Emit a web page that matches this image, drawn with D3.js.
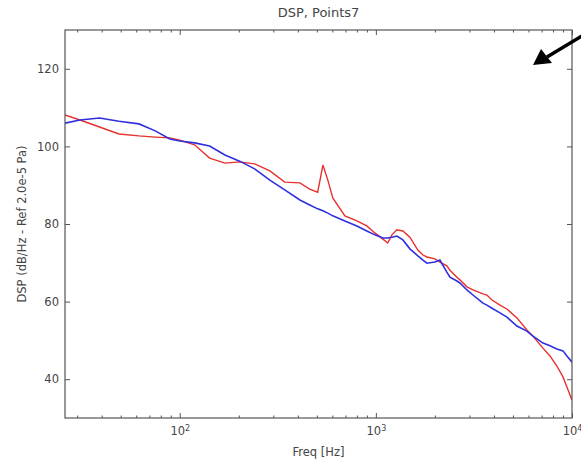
<!DOCTYPE html>
<html>
<head>
<meta charset="utf-8">
<script src="https://d3js.org/d3.v7.min.js"></script>
<style>
    body { margin: 0; background: #fff; }
    svg text { font-family: "DejaVu Sans", sans-serif; fill: #444; }
</style>
</head>
<body>
<div id="my_dataviz"></div>
<script>

// frequencies (Hz), shared by both curves
var freq = [26, 31, 39, 49, 62, 75, 89, 100,
            119, 142, 170, 202, 241, 288, 343, 410,
            460, 505, 537, 569, 603, 695, 800, 899,
            988, 1086, 1150, 1207, 1280, 1373, 1491, 1637,
            1738, 1820, 2000, 2121, 2301, 2386, 2589, 2683,
            2911, 3126, 3515, 3681, 3908, 4293, 4656, 5240,
            5888, 6322, 7112, 7722, 8375, 8995, 9421, 10000]

// red curve (dB/Hz)
var dspRed = [108.1, 106.8, 105.0, 103.2, 102.7, 102.4, 102.2, 101.6,
              100.4, 97.0, 95.7, 96.0, 95.5, 93.7, 90.8, 90.6,
              89.0, 88.2, 95.2, 91.3, 86.7, 82.1, 80.8, 79.5,
              77.7, 76.1, 75.1, 77.2, 78.5, 78.2, 76.6, 73.3,
              72.0, 71.5, 71.0, 70.2, 69.2, 68.1, 66.3, 65.6,
              63.8, 63.0, 62.0, 61.7, 60.4, 59.1, 58.1, 55.8,
              52.7, 51.1, 48.0, 46.0, 43.4, 40.6, 38.0, 34.6]

// blue curve (dB/Hz)
var dspBlue = [106.0, 106.8, 107.3, 106.5, 105.8, 104.0, 101.9, 101.4,
               100.9, 100.1, 97.8, 96.2, 94.2, 91.3, 88.8, 86.2,
               84.9, 83.9, 83.4, 82.8, 82.1, 80.8, 79.5, 78.2,
               77.2, 76.4, 76.4, 76.6, 76.9, 75.9, 73.6, 71.8,
               70.7, 69.9, 70.2, 70.7, 67.6, 66.3, 65.3, 64.8,
               63.0, 61.7, 59.6, 59.1, 58.3, 57.1, 56.0, 53.7,
               52.4, 51.1, 49.3, 48.6, 47.8, 47.3, 46.0, 44.4]

var yTicks = [40, 60, 80, 100, 120]
var xTicks = [100, 1000, 10000]

var width = 581
    height = 463
    margin = {top: 30, right: 9, bottom: 45, left: 65}

var svg = d3.select("#my_dataviz")
  .append("svg")
    .attr("width", width)
    .attr("height", height)

var x = d3.scaleLog()
    .domain([26, 10000])
    .range([margin.left, width - margin.right])

var y = d3.scaleLinear()
    .domain([30, 130])
    .range([height - margin.bottom, margin.top])

// minor ticks of the log axis
var xMinor = []
for (var e = 1; e < 4; e++) {
    for (var k = 2; k < 10; k++) {
        var v = k * Math.pow(10, e)
        if (v >= 26 && v <= 10000) xMinor.push(v)
    }
}

// clip for the curves
svg.append("clipPath").attr("id", "clip")
  .append("rect")
    .attr("x", margin.left).attr("y", margin.top)
    .attr("width", width - margin.left - margin.right)
    .attr("height", height - margin.top - margin.bottom)

var line = d3.line()
    .x(function(d, i) { return x(freq[i]) })
    .y(function(d) { return y(d) })

svg.append("path")
    .datum(dspRed)
    .attr("clip-path", "url(#clip)")
    .attr("fill", "none")
    .attr("stroke", "#e8302c")
    .attr("stroke-width", 1.4)
    .attr("d", line)

svg.append("path")
    .datum(dspBlue)
    .attr("clip-path", "url(#clip)")
    .attr("fill", "none")
    .attr("stroke", "#2f2fe0")
    .attr("stroke-width", 1.6)
    .attr("d", line)

// axes, ticks pointing inward like matplotlib
function styleAxis(g) {
    g.select(".domain").remove()
    g.selectAll("line").attr("stroke", "#555")
}

var bottom = height - margin.bottom
var right = width - margin.right

var xAxis = svg.append("g")
    .attr("transform", "translate(0," + bottom + ")")
    .call(d3.axisBottom(x).tickValues(xTicks).tickSize(-5).tickPadding(9).tickFormat(function() { return "10" }))
    .call(styleAxis)
xAxis.selectAll("text")
    .attr("font-size", "11.5px")
  .append("tspan")
    .attr("dy", "-0.5em")
    .attr("font-size", "8px")
    .text(function(d) { return Math.round(Math.log10(d)) })

svg.append("g")
    .attr("transform", "translate(0," + bottom + ")")
    .call(d3.axisBottom(x).tickValues(xMinor).tickSize(-2.5).tickFormat(""))
    .call(styleAxis)

svg.append("g")
    .attr("transform", "translate(0," + margin.top + ")")
    .call(d3.axisTop(x).tickValues(xTicks).tickSize(-5).tickFormat(""))
    .call(styleAxis)

svg.append("g")
    .attr("transform", "translate(0," + margin.top + ")")
    .call(d3.axisTop(x).tickValues(xMinor).tickSize(-2.5).tickFormat(""))
    .call(styleAxis)

svg.append("g")
    .attr("transform", "translate(" + margin.left + ",0)")
    .call(d3.axisLeft(y).tickValues(yTicks).tickSize(-5).tickPadding(6))
    .call(styleAxis)
    .selectAll("text").attr("font-size", "11.5px")

svg.append("g")
    .attr("transform", "translate(" + right + ",0)")
    .call(d3.axisRight(y).tickValues(yTicks).tickSize(-5).tickFormat(""))
    .call(styleAxis)

// frame
svg.append("rect")
    .attr("x", margin.left)
    .attr("y", margin.top)
    .attr("width", right - margin.left)
    .attr("height", bottom - margin.top)
    .attr("fill", "none")
    .attr("stroke", "#555")
    .attr("stroke-width", 1.2)

// titles
svg.append("text")
    .attr("x", (margin.left + right) / 2)
    .attr("y", 17)
    .attr("text-anchor", "middle")
    .attr("font-size", "13px")
    .text("DSP, Points7")

svg.append("text")
    .attr("x", (margin.left + right) / 2)
    .attr("y", 456)
    .attr("text-anchor", "middle")
    .attr("font-size", "11.5px")
    .text("Freq [Hz]")

svg.append("text")
    .attr("transform", "translate(26," + (margin.top + bottom) / 2 + ") rotate(-90)")
    .attr("text-anchor", "middle")
    .attr("font-size", "11.5px")
    .text("DSP (dB/Hz - Ref 2.0e-5 Pa)")

// black arrow in the upper right corner
svg.append("line")
    .attr("x1", 590).attr("y1", 31)
    .attr("x2", 547).attr("y2", 57)
    .attr("stroke", "#000")
    .attr("stroke-width", 3.5)
svg.append("path")
    .attr("d", "M533,65 L541,49 L552,63 Z")
    .attr("fill", "#000")

</script>
</body>
</html>
